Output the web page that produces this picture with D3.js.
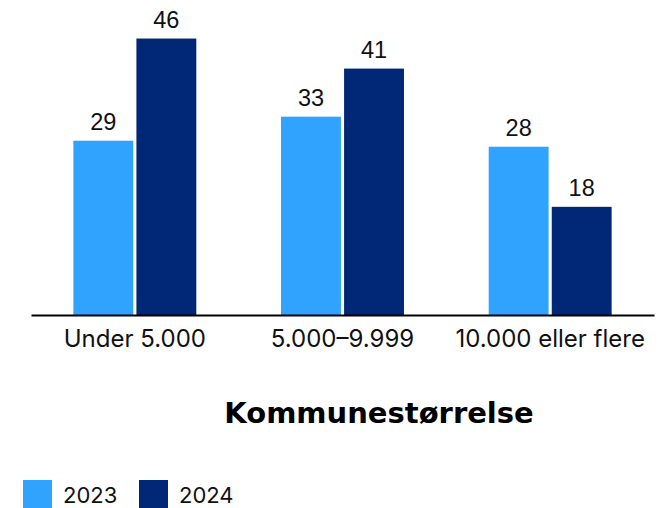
<!DOCTYPE html>
<head>
  <meta charset="utf-8">
  <style>
    body { margin: 0; background: #fff; }
    .val { font-family: "Liberation Sans", Arial, sans-serif; }
    .leg, .tick text { font-family: "Inter", sans-serif; }
    .title { font-family: "DejaVu Sans", sans-serif; font-weight: 700; }
  </style>
</head>
<svg width="669" height="508"></svg>
<script src="https://d3js.org/d3.v7.min.js"></script>
<script>
  const categories = ["Under 5.000", "5.000–9.999", "10.000 eller flere"];
  const years = ["2023", "2024"];
  const values2023 = [29, 33, 28];
  const values2024 = [46, 41, 18];
  const colors = ["#2fa3ff", "#012777"];

  const rows = categories.map((c, i) => ({ cat: c, vals: [values2023[i], values2024[i]] }));

  const svg = d3.select("svg");

  const x0 = d3.scaleBand()
    .domain(categories)
    .range([31, 654])
    .paddingInner(0.408)
    .paddingOuter(0.204);

  const x1 = d3.scaleBand()
    .domain(years)
    .range([0, x0.bandwidth()])
    .paddingInner(0.05);

  const y = d3.scaleLinear()
    .domain([0, 50])
    .range([315, 14.5]);

  const groups = svg.append("g")
    .selectAll("g")
    .data(rows)
    .enter().append("g")
    .attr("transform", d => "translate(" + x0(d.cat) + ",0)");

  groups.selectAll("rect")
    .data(d => d.vals.map((v, j) => ({ year: years[j], v: v, j: j })))
    .enter().append("rect")
    .attr("x", d => x1(d.year))
    .attr("y", d => y(d.v))
    .attr("width", x1.bandwidth())
    .attr("height", d => y(0) - y(d.v))
    .attr("fill", d => colors[d.j]);

  groups.selectAll("text.val")
    .data(d => d.vals.map((v, j) => ({ year: years[j], v: v })))
    .enter().append("text")
    .attr("class", "val")
    .attr("x", d => x1(d.year) + x1.bandwidth() / 2)
    .attr("y", d => y(d.v) - 11)
    .attr("text-anchor", "middle")
    .style("font-size", "23.5px")
    .style("fill", "#111")
    .text(d => d.v);

  // x axis
  const xAxis = svg.append("g")
    .attr("transform", "translate(0," + y(0) + ")")
    .call(d3.axisBottom(x0).tickSize(0).tickPadding(15));
  xAxis.select(".domain")
    .attr("stroke", "#000")
    .attr("stroke-width", 2);
  xAxis.selectAll(".tick text")
    .style("font-size", "24px")
    .style("fill", "#111");

  svg.append("text")
    .attr("class", "title")
    .attr("x", 379)
    .attr("y", 423)
    .attr("text-anchor", "middle")
    .style("font-size", "29px")
    .style("fill", "#000")
    .text("Kommunestørrelse");

  // legend
  const legend = svg.append("g")
    .selectAll("g")
    .data(years)
    .enter().append("g")
    .attr("transform", (d, i) => "translate(" + (23 + i * 116) + ",480)");
  legend.append("rect")
    .attr("width", 29)
    .attr("height", 28)
    .attr("fill", (d, i) => colors[i]);
  legend.append("text")
    .attr("class", "leg")
    .attr("x", 40)
    .attr("y", 22.5)
    .style("font-size", "22px")
    .style("fill", "#111")
    .text(d => d);
</script>
